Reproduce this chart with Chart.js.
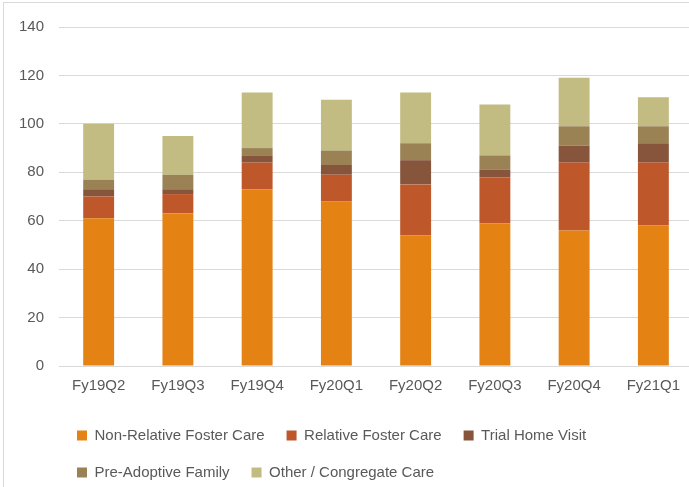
<!DOCTYPE html>
<html>
<head>
<meta charset="utf-8">
<script src="https://cdn.jsdelivr.net/npm/chart.js@4.4.1/dist/chart.umd.min.js"></script>
<style>
  html, body { margin: 0; padding: 0; background: #fff; overflow: hidden; }
  #frame { position: absolute; left: 3px; top: 2px; width: 700px; height: 500px; border: 1px solid #d9d9d9; box-sizing: border-box; }
  #wrap { position: absolute; left: 0; top: 0; width: 694px; height: 487px; }
</style>
</head>
<body>
<div id="frame"></div>
<div id="wrap"><canvas id="c"></canvas></div>
<script>
const categories = ["Fy19Q2", "Fy19Q3", "Fy19Q4", "Fy20Q1", "Fy20Q2", "Fy20Q3", "Fy20Q4", "Fy21Q1"];
const nonRelativeFosterCare = [61, 63, 73, 68, 54, 59, 56, 58];
const relativeFosterCare    = [9, 8, 11, 11, 21, 19, 28, 26];
const trialHomeVisit        = [3, 2, 3, 4, 10, 3, 7, 8];
const preAdoptiveFamily     = [4, 6, 3, 6, 7, 6, 8, 7];
const otherCongregateCare   = [23, 16, 23, 21, 21, 21, 20, 12];
const yTicks = [0, 20, 40, 60, 80, 100, 120, 140];

const FONT = "'Liberation Sans', Arial, sans-serif";
const TXT = "#595959";

const legendShift = {
  id: 'legendShift',
  afterLayout(chart) {
    if (chart.legend) { chart.legend.left = 55; }
  }
};

new Chart(document.getElementById('c'), {
  type: 'bar',
  data: {
    labels: categories,
    datasets: [
      { label: 'Non-Relative Foster Care', data: nonRelativeFosterCare, backgroundColor: '#E48214' },
      { label: 'Relative Foster Care', data: relativeFosterCare, backgroundColor: '#BE572A' },
      { label: 'Trial Home Visit', data: trialHomeVisit, backgroundColor: '#87553C' },
      { label: 'Pre-Adoptive Family', data: preAdoptiveFamily, backgroundColor: '#9B8255' },
      { label: 'Other / Congregate Care', data: otherCongregateCare, backgroundColor: '#C3BC82' }
    ]
  },
  options: {
    responsive: true,
    maintainAspectRatio: false,
    animation: false,
    datasets: { bar: { categoryPercentage: 1, barPercentage: 0.39 } },
    layout: { padding: { top: 27, left: 4, right: 1, bottom: -3 } },
    plugins: {
      legend: {
        position: 'bottom',
        align: 'start',
        labels: {
          boxWidth: 10, boxHeight: 10, padding: 22,
          color: TXT,
          font: { family: FONT, size: 15 }
        }
      },
      tooltip: { enabled: false }
    },
    scales: {
      x: {
        stacked: true,
        grid: { display: false, drawTicks: false },
        border: { display: false },
        ticks: { color: TXT, font: { family: FONT, size: 15 }, padding: 11, maxRotation: 0 }
      },
      y: {
        stacked: true,
        min: 0, max: 140,
        afterBuildTicks(axis) { axis.ticks = yTicks.map(v => ({ value: v })); },
        grid: { color: '#d9d9d9', lineWidth: 1, drawTicks: false },
        border: { display: false },
        ticks: { color: TXT, font: { family: FONT, size: 15 }, padding: 15 }
      }
    }
  },
  plugins: [legendShift]
});
</script>
</body>
</html>
